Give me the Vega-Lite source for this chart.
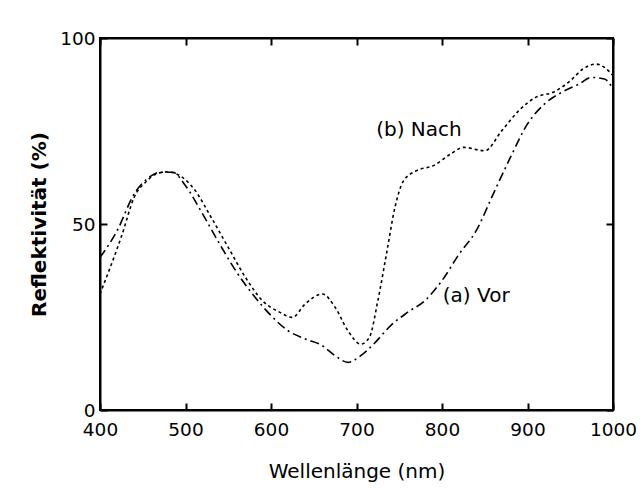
{
  "$schema": "https://vega.github.io/schema/vega-lite/v6.json",
  "width": 513,
  "height": 372,
  "autosize": "none",
  "padding": {"left": 100, "top": 38, "right": 27, "bottom": 88},
  "background": "white",
  "config": {
    "view": {"stroke": "black", "strokeWidth": 2},
    "font": "DejaVu Sans",
    "axis": {"domainColor": "black", "domainWidth": 2, "tickColor": "black", "tickWidth": 2, "labelColor": "black", "titleColor": "black", "grid": false, "ticks": true, "labelFlush": false, "labelOverlap": false}
  },
  "datasets": {
    "curves": [
      {"nm": 400, "r": 41.0, "s": "a"},
      {"nm": 420, "r": 48.2, "s": "a"},
      {"nm": 440, "r": 58.1, "s": "a"},
      {"nm": 455, "r": 62.1, "s": "a"},
      {"nm": 470, "r": 63.9, "s": "a"},
      {"nm": 485, "r": 63.9, "s": "a"},
      {"nm": 500, "r": 60.3, "s": "a"},
      {"nm": 520, "r": 52.7, "s": "a"},
      {"nm": 540, "r": 44.6, "s": "a"},
      {"nm": 560, "r": 37.0, "s": "a"},
      {"nm": 580, "r": 30.7, "s": "a"},
      {"nm": 600, "r": 25.4, "s": "a"},
      {"nm": 620, "r": 21.3, "s": "a"},
      {"nm": 640, "r": 19.1, "s": "a"},
      {"nm": 660, "r": 17.3, "s": "a"},
      {"nm": 675, "r": 14.6, "s": "a"},
      {"nm": 690, "r": 12.8, "s": "a"},
      {"nm": 705, "r": 14.6, "s": "a"},
      {"nm": 720, "r": 17.7, "s": "a"},
      {"nm": 740, "r": 22.7, "s": "a"},
      {"nm": 760, "r": 26.3, "s": "a"},
      {"nm": 780, "r": 29.4, "s": "a"},
      {"nm": 800, "r": 34.8, "s": "a"},
      {"nm": 820, "r": 41.9, "s": "a"},
      {"nm": 840, "r": 48.2, "s": "a"},
      {"nm": 860, "r": 58.1, "s": "a"},
      {"nm": 880, "r": 67.9, "s": "a"},
      {"nm": 900, "r": 76.9, "s": "a"},
      {"nm": 920, "r": 82.3, "s": "a"},
      {"nm": 940, "r": 85.4, "s": "a"},
      {"nm": 960, "r": 87.6, "s": "a"},
      {"nm": 975, "r": 89.4, "s": "a"},
      {"nm": 990, "r": 89.0, "s": "a"},
      {"nm": 1000, "r": 86.3, "s": "a"},
      {"nm": 400, "r": 31.2, "s": "b"},
      {"nm": 426, "r": 47.3, "s": "b"},
      {"nm": 440, "r": 57.2, "s": "b"},
      {"nm": 455, "r": 61.6, "s": "b"},
      {"nm": 465, "r": 63.4, "s": "b"},
      {"nm": 478, "r": 64.0, "s": "b"},
      {"nm": 490, "r": 63.4, "s": "b"},
      {"nm": 510, "r": 59.4, "s": "b"},
      {"nm": 530, "r": 51.8, "s": "b"},
      {"nm": 550, "r": 43.7, "s": "b"},
      {"nm": 570, "r": 35.7, "s": "b"},
      {"nm": 590, "r": 29.4, "s": "b"},
      {"nm": 610, "r": 26.3, "s": "b"},
      {"nm": 625, "r": 24.9, "s": "b"},
      {"nm": 640, "r": 28.5, "s": "b"},
      {"nm": 660, "r": 31.2, "s": "b"},
      {"nm": 675, "r": 27.6, "s": "b"},
      {"nm": 690, "r": 21.3, "s": "b"},
      {"nm": 705, "r": 17.7, "s": "b"},
      {"nm": 715, "r": 19.5, "s": "b"},
      {"nm": 725, "r": 29.4, "s": "b"},
      {"nm": 735, "r": 41.9, "s": "b"},
      {"nm": 745, "r": 54.5, "s": "b"},
      {"nm": 755, "r": 61.6, "s": "b"},
      {"nm": 770, "r": 64.3, "s": "b"},
      {"nm": 790, "r": 65.7, "s": "b"},
      {"nm": 810, "r": 68.8, "s": "b"},
      {"nm": 825, "r": 70.6, "s": "b"},
      {"nm": 850, "r": 69.7, "s": "b"},
      {"nm": 870, "r": 75.1, "s": "b"},
      {"nm": 890, "r": 80.5, "s": "b"},
      {"nm": 910, "r": 84.1, "s": "b"},
      {"nm": 930, "r": 85.4, "s": "b"},
      {"nm": 950, "r": 88.5, "s": "b"},
      {"nm": 965, "r": 91.7, "s": "b"},
      {"nm": 980, "r": 93.0, "s": "b"},
      {"nm": 990, "r": 92.1, "s": "b"},
      {"nm": 1000, "r": 89.9, "s": "b"}
    ],
    "labels": [
      {"nm": 773, "r": 75.3, "t": "(b) Nach"},
      {"nm": 840, "r": 30.7, "t": "(a) Vor"}
    ]
  },
  "layer": [
    {
      "data": {"name": "curves"},
      "mark": {"type": "line", "interpolate": "monotone", "color": "black", "strokeWidth": 1.6},
      "encoding": {
        "x": {"field": "nm", "type": "quantitative", "scale": {"domain": [400, 1000], "nice": false, "zero": false},
          "axis": {"orient": "bottom", "values": [400, 500, 600, 700, 800, 900, 1000], "format": "d", "tickSize": -7, "labelPadding": 17, "labelFontSize": 18.5, "title": "Wellenlänge (nm)", "titleFontSize": 20, "titleFontWeight": "normal", "titlePadding": 23}},
        "y": {"field": "r", "type": "quantitative", "scale": {"domain": [0, 100], "nice": false},
          "axis": {"orient": "left", "values": [0, 50, 100], "format": "d", "tickSize": -7, "labelPadding": 12, "labelFontSize": 18.5, "title": "Reflektivität (%)", "titleFontSize": 20, "titleFontWeight": "bold", "titlePadding": 10}},
        "strokeDash": {"field": "s", "type": "nominal", "scale": {"domain": ["a", "b"], "range": [[9, 4, 2, 4], [3, 3]]}, "legend": null}
      }
    },
    {
      "data": {"name": "labels"},
      "mark": {"type": "text", "fontSize": 20, "color": "black"},
      "encoding": {
        "x": {"field": "nm", "type": "quantitative", "axis": {"orient": "top", "values": [400, 500, 600, 700, 800, 900, 1000], "tickSize": -7, "labels": false, "title": null}},
        "y": {"field": "r", "type": "quantitative", "axis": {"orient": "right", "values": [0, 50, 100], "tickSize": -7, "labels": false, "title": null}},
        "text": {"field": "t", "type": "nominal"}
      }
    }
  ],
  "resolve": {"axis": {"x": "independent", "y": "independent"}}
}
